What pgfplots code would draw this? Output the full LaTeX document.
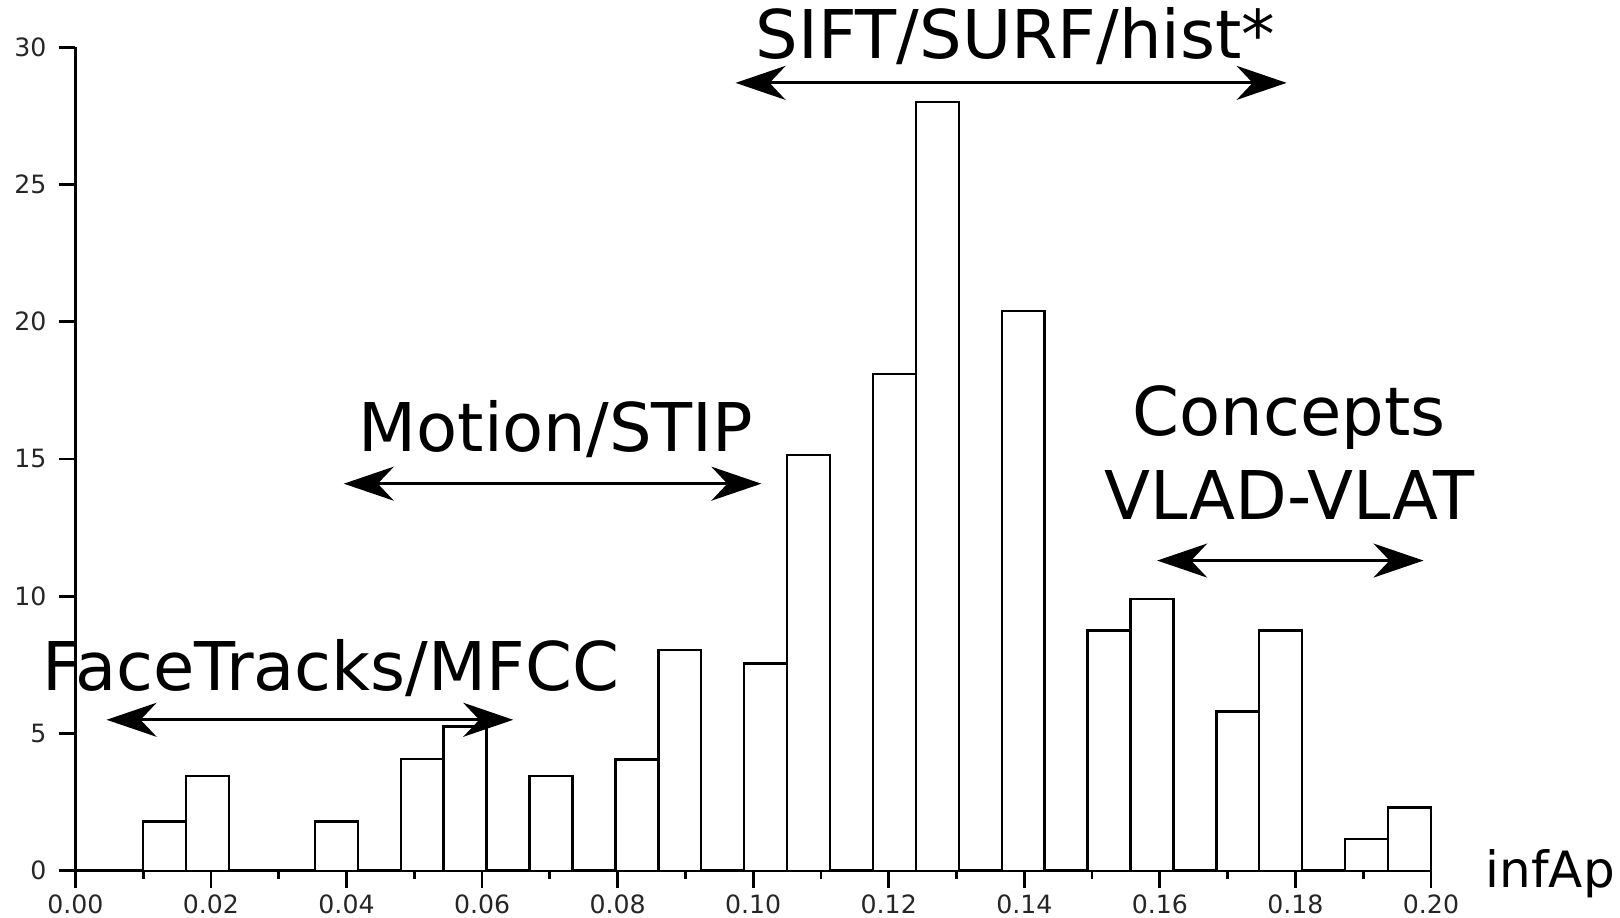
\documentclass[border=0pt]{standalone}
\usepackage{pgfplots}
\pgfplotsset{compat=1.18}
\usepackage{pgfplotstable}
\usepackage{fontspec}
\setmainfont{DejaVu Sans}
\usetikzlibrary{arrows.meta}

\pgfplotstableread{
x y
0.010000 1.80
0.016333 3.45
0.022667 0
0.029000 0
0.035333 1.80
0.041667 0
0.048000 4.08
0.054333 5.25
0.060667 0
0.067000 3.45
0.073333 0
0.079667 4.05
0.086000 8.05
0.092333 0
0.098667 7.55
0.105000 15.15
0.111333 0
0.117667 18.10
0.124000 28.00
0.130333 0
0.136667 20.40
0.143000 0
0.149333 8.75
0.155667 9.90
0.162000 0
0.168333 5.80
0.174667 8.75
0.181000 0
0.187333 1.15
0.193667 2.30
0.200000 2.30
}\histdata

\begin{document}
\begin{tikzpicture}
\useasboundingbox (0,0) rectangle (405pt,229.5pt);
\begin{axis}[
  at={(18.85pt,11.8pt)}, anchor=south west,
  scale only axis, width=338.9pt, height=205.9pt,
  xmin=0, xmax=0.2, ymin=0, ymax=30,
  axis x line*=bottom, axis y line*=left,
  axis line style={line width=0.75pt, -},
  xtick={0,0.02,...,0.2}, minor xtick={0.01,0.03,...,0.19},
  ytick={0,5,...,30}, minor ytick={},
  tick align=outside,
  major tick length=4.2pt, minor tick length=2pt,
  every tick/.style={line width=0.7pt, black},
  tick label style={font=\fontsize{6.3}{7}\selectfont, text=black!85},
  /pgf/number format/assume math mode=true,
  xticklabel style={/pgf/number format/.cd, fixed, fixed zerofill, precision=2},
  xticklabel shift=-1.8pt,
  yticklabel shift=-0.5pt,
  clip=false,
]
\addplot[ybar interval, fill=white, draw=black, line width=0.6pt] table[x=x,y=y] {\histdata};

\tikzset{dbl/.style={line width=0.7pt, {Stealth[length=12.5pt,width=8.5pt,inset=4pt]}-{Stealth[length=12.5pt,width=8.5pt,inset=4pt]}}}
\draw[dbl] (axis cs:0.0974,28.7) -- (axis cs:0.1787,28.7);
\node[font=\fontsize{16.8}{20}\selectfont] at (axis cs:0.1387,30.4) {SIFT/SURF/hist*};

\draw[dbl] (axis cs:0.0396,14.1) -- (axis cs:0.1012,14.1);
\node[font=\fontsize{16.8}{20}\selectfont] at (axis cs:0.0709,16.1) {Motion/STIP};

\draw[dbl] (axis cs:0.0046,5.5) -- (axis cs:0.0646,5.5);
\node[font=\fontsize{16.8}{20}\selectfont] at (axis cs:0.0377,7.4) {FaceTracks/MFCC};

\draw[dbl] (axis cs:0.1596,11.3) -- (axis cs:0.1989,11.3);
\node[font=\fontsize{16.8}{20}\selectfont] at (axis cs:0.1791,16.5) {Concepts};
\node[font=\fontsize{16.8}{20}\selectfont] at (axis cs:0.1791,13.7) {VLAD-VLAT};

\node[font=\fontsize{12.5}{14}\selectfont, anchor=west] at (axis cs:0.2060,-0.1) {infAp};
\end{axis}
\end{tikzpicture}
\end{document}
